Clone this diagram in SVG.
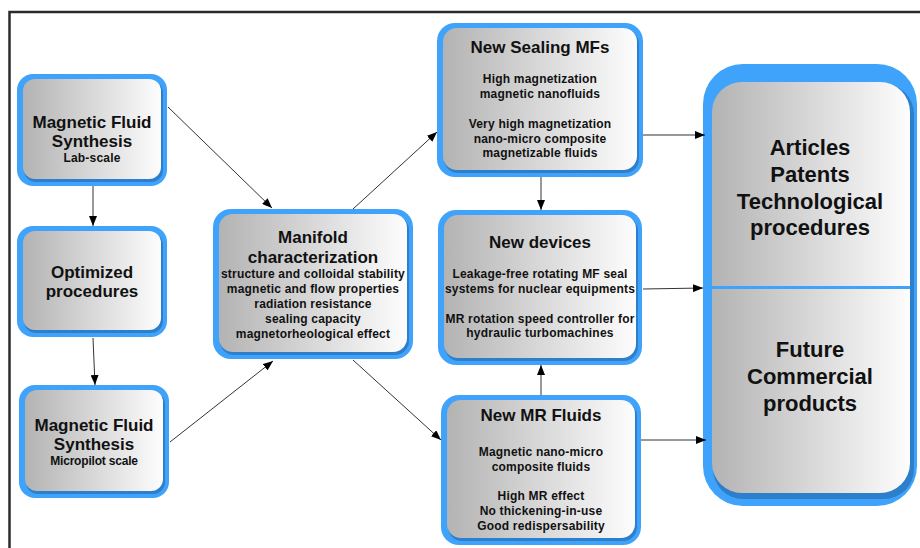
<svg xmlns="http://www.w3.org/2000/svg" width="920" height="548" viewBox="0 0 920 548">
<defs>
<linearGradient id="g" x1="0" y1="0" x2="1" y2="0">
<stop offset="0" stop-color="#b3b3b3"/>
<stop offset="1" stop-color="#fdfdfd"/>
</linearGradient>
<marker id="ah" viewBox="0 0 10 8" refX="10" refY="4" markerWidth="10" markerHeight="8" markerUnits="userSpaceOnUse" orient="auto">
<path d="M0,0 L10,4 L0,8 Z" fill="#000"/>
</marker>
<style>
.ob{fill:#3fa3fb}
.sh{fill:#2d7fcb}
.in{fill:url(#g)}
.t{font-family:"Liberation Sans",Arial,sans-serif;font-weight:bold;fill:#111;text-anchor:middle}
.h{font-size:17px}
.s{font-size:12px;letter-spacing:0.2px}
.b{font-size:22px}
.c line{stroke:#333;stroke-width:1;marker-end:url(#ah)}
</style>
</defs>
<rect x="9.5" y="12" width="940" height="580" fill="none" stroke="#2b2b2b" stroke-width="2.5"/>

<g id="lab">
<rect class="ob" x="17" y="74" width="150" height="112" rx="16"/>
<rect class="sh" x="24" y="81" width="139" height="101" rx="12"/>
<rect class="in" x="23" y="79" width="138" height="100" rx="12"/>
<text class="t h" x="92" y="128">Magnetic Fluid</text>
<text class="t h" x="92" y="147">Synthesis</text>
<text class="t s" x="92" y="162">Lab-scale</text>
</g>

<g id="opt">
<rect class="ob" x="17" y="226" width="150" height="111" rx="16"/>
<rect class="sh" x="24" y="233" width="139" height="100" rx="12"/>
<rect class="in" x="23" y="231" width="138" height="99" rx="12"/>
<text class="t h" x="92" y="278">Optimized</text>
<text class="t h" x="92" y="297">procedures</text>
</g>

<g id="micro">
<rect class="ob" x="19" y="385" width="150" height="113" rx="16"/>
<rect class="sh" x="26" y="392" width="139" height="102" rx="12"/>
<rect class="in" x="25" y="390" width="138" height="101" rx="12"/>
<text class="t h" x="94" y="431">Magnetic Fluid</text>
<text class="t h" x="94" y="450">Synthesis</text>
<text class="t s" x="94" y="465" style="letter-spacing:-0.2px">Micropilot scale</text>
</g>

<g id="manifold">
<rect class="ob" x="213" y="209" width="200" height="150" rx="18"/>
<rect class="sh" x="220" y="216" width="189" height="139" rx="14"/>
<rect class="in" x="219" y="214" width="188" height="138" rx="14"/>
<text class="t h" x="313" y="243">Manifold</text>
<text class="t h" x="313" y="263">characterization</text>
<text class="t s" x="313" y="278">structure and colloidal stability</text>
<text class="t s" x="313" y="293">magnetic and flow properties</text>
<text class="t s" x="313" y="308">radiation resistance</text>
<text class="t s" x="313" y="323">sealing capacity</text>
<text class="t s" x="313" y="338">magnetorheological effect</text>
</g>

<g id="sealing">
<rect class="ob" x="437" y="23" width="206" height="154" rx="18"/>
<rect class="sh" x="444" y="30" width="195" height="143" rx="14"/>
<rect class="in" x="443" y="28" width="194" height="142" rx="14"/>
<text class="t h" x="540" y="53">New Sealing MFs</text>
<text class="t s" x="540" y="83">High magnetization</text>
<text class="t s" x="540" y="98">magnetic nanofluids</text>
<text class="t s" x="540" y="128">Very high magnetization</text>
<text class="t s" x="540" y="143">nano-micro composite</text>
<text class="t s" x="540" y="157">magnetizable fluids</text>
</g>

<g id="devices">
<rect class="ob" x="438" y="210" width="204" height="155" rx="18"/>
<rect class="sh" x="445" y="217" width="193" height="144" rx="14"/>
<rect class="in" x="444" y="215" width="192" height="143" rx="14"/>
<text class="t h" x="540" y="248">New devices</text>
<text class="t s" x="540" y="278">Leakage-free rotating MF seal</text>
<text class="t s" x="540" y="293">systems for nuclear equipments</text>
<text class="t s" x="540" y="323">MR rotation speed controller for</text>
<text class="t s" x="540" y="337">hydraulic turbomachines</text>
</g>

<g id="mrfluids">
<rect class="ob" x="441" y="395" width="200" height="150" rx="18"/>
<rect class="sh" x="448" y="402" width="189" height="139" rx="14"/>
<rect class="in" x="447" y="400" width="188" height="138" rx="14"/>
<text class="t h" x="541" y="421">New MR Fluids</text>
<text class="t s" x="541" y="456">Magnetic nano-micro</text>
<text class="t s" x="541" y="471">composite fluids</text>
<text class="t s" x="541" y="500">High MR effect</text>
<text class="t s" x="541" y="515">No thickening-in-use</text>
<text class="t s" x="541" y="530">Good redispersability</text>
</g>

<g id="outputs">
<rect class="ob" x="703" y="64" width="214" height="442" rx="40"/>
<rect class="sh" x="713" y="84" width="201" height="415" rx="30"/>
<rect class="in" x="712" y="82" width="198" height="411" rx="30"/>
<rect class="ob" x="712" y="286" width="198" height="3"/>
<text class="t b" x="810" y="155">Articles</text>
<text class="t b" x="810" y="182">Patents</text>
<text class="t b" x="810" y="209">Technological</text>
<text class="t b" x="810" y="235">procedures</text>
<text class="t b" x="810" y="357">Future</text>
<text class="t b" x="810" y="384">Commercial</text>
<text class="t b" x="810" y="411">products</text>
</g>

<g id="connectors" class="c">
<line x1="93" y1="186" x2="93" y2="226"/>
<line x1="93" y1="338" x2="95" y2="385"/>
<line x1="168" y1="107" x2="272" y2="208"/>
<line x1="170" y1="442" x2="273" y2="361"/>
<line x1="353" y1="209" x2="437" y2="132"/>
<line x1="353" y1="360" x2="441" y2="440"/>
<line x1="541" y1="177" x2="541" y2="210"/>
<line x1="541" y1="395" x2="541" y2="365"/>
<line x1="643" y1="135" x2="705" y2="135"/>
<line x1="643" y1="289" x2="703" y2="288"/>
<line x1="641" y1="440" x2="706" y2="440"/>
</g>
</svg>
